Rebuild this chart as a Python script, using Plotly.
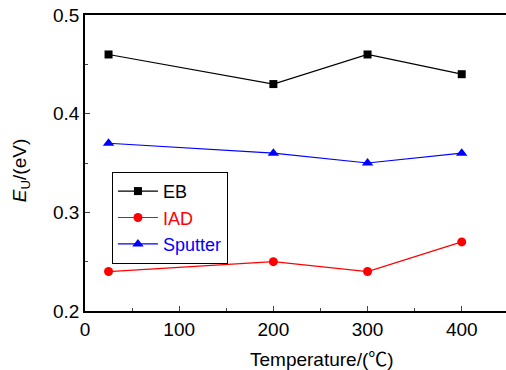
import plotly.graph_objects as go

temps = [25, 200, 300, 400]
eb = [0.46, 0.43, 0.46, 0.44]
iad = [0.24, 0.25, 0.24, 0.27]
sputter = [0.37, 0.36, 0.35, 0.36]

x_ticks = [0, 100, 200, 300, 400]
y_ticks = [0.2, 0.3, 0.4, 0.5]

FONT = "Liberation Sans, Arial, sans-serif"
FS = 19

fig = go.Figure()
fig.add_trace(go.Scatter(x=temps, y=eb, mode="lines+markers", name="EB",
                         line=dict(color="black", width=1.2),
                         marker=dict(symbol="square", size=8, color="black")))
fig.add_trace(go.Scatter(x=temps, y=iad, mode="lines+markers",
                         name='<span style="color:red">IAD</span>',
                         line=dict(color="red", width=1.2),
                         marker=dict(symbol="circle", size=9, color="red")))
fig.add_trace(go.Scatter(x=temps, y=sputter, mode="lines+markers",
                         name='<span style="color:blue">Sputter</span>',
                         line=dict(color="blue", width=1.2),
                         marker=dict(symbol="triangle-up", size=10, color="blue")))

fig.update_layout(
    width=506, height=370,
    margin=dict(l=85, r=0, t=15, b=59),
    plot_bgcolor="white", paper_bgcolor="white",
    font=dict(family=FONT, size=FS, color="black"),
    showlegend=True,
    legend=dict(x=0.064, y=0.47, xanchor="left", yanchor="top",
                bordercolor="black", borderwidth=1, bgcolor="white",
                font=dict(size=18), tracegroupgap=0, itemwidth=40),
    annotations=[
        dict(text='Temperature/(<span style="font-family:\'Noto Sans CJK SC\'">℃</span>)',
             xref="paper", yref="paper", x=0.563, y=-0.158,
             xanchor="center", yanchor="middle", showarrow=False,
             font=dict(size=FS, family=FONT)),
        dict(text="<i>E</i><sub>U</sub>/(eV)", xref="paper", yref="paper",
             x=-0.15, y=0.475, xanchor="center", yanchor="middle",
             textangle=-90, showarrow=False, font=dict(size=FS, family=FONT)),
    ],
)
fig.update_xaxes(range=[0, 447], tickvals=x_ticks, ticks="inside", ticklen=5,
                 tickwidth=1, showline=True, linecolor="black", linewidth=1.5,
                 mirror=True, showgrid=False, zeroline=False,
                 minor=dict(ticks="inside", ticklen=3, dtick=50, tick0=0, showgrid=False),
                 tickfont=dict(size=FS))
fig.update_yaxes(range=[0.2, 0.5], tickvals=y_ticks, tickformat=".1f", ticks="inside",
                 ticklen=5, tickwidth=1, showline=True, linecolor="black", linewidth=1.5,
                 mirror=False, showgrid=False, zeroline=False,
                 minor=dict(ticks="inside", ticklen=3, dtick=0.05, tick0=0.2, showgrid=False),
                 tickfont=dict(size=FS))

fig.write_html("out.html")
